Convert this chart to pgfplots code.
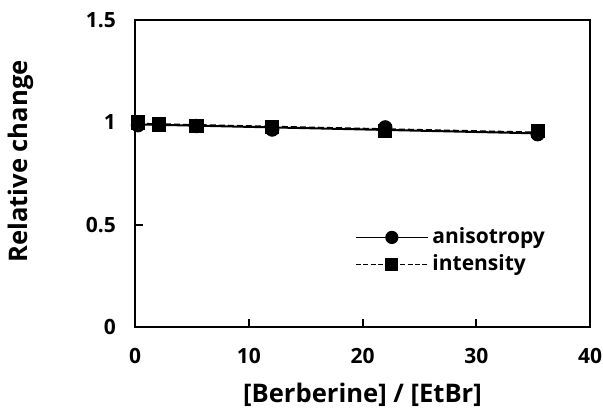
\documentclass[border=0pt]{standalone}
\usepackage{fontspec}
\setmainfont{Open Sans}
\usepackage{pgfplots}
\pgfplotsset{compat=1.18}
\begin{document}
\begin{tikzpicture}
\begin{axis}[
  scale only axis,
  width=227.5pt, height=153.5pt,
  xmin=0, xmax=40, ymin=0, ymax=1.5,
  xtick={0,10,20,30,40}, ytick={0,0.5,1,1.5},
  xtick pos=bottom, ytick pos=left,
  tick align=inside, major tick length=4pt,
  axis line style={line width=1.2pt},
  every tick/.style={line width=1pt, black},
  /pgf/number format/assume math mode=true,
  tick label style={font=\fontsize{10.5}{12}\selectfont\bfseries},
  xticklabel style={yshift=-7pt},
  yticklabel style={xshift=-6pt},
  label style={font=\fontsize{12.8}{15}\selectfont\bfseries},
  xlabel={[Berberine] / [EtBr]},
  ylabel={Relative change},
  xlabel style={yshift=-3pt},
  ylabel style={yshift=19.5pt, xshift=6pt},
  clip=false,
  legend style={draw=none, fill=none, at={(0.47,0.35)}, anchor=north west,
    font=\fontsize{10.5}{12}\selectfont\bfseries, row sep=0pt},
  legend cell align=left,
  legend image code/.code={\draw[#1, mark repeat=2, mark phase=2] plot coordinates {(0pt,0pt)(18pt,0pt)(36pt,0pt)};},
]
% fit lines
\addplot[black, line width=1pt, forget plot] coordinates {(0.26,0.99) (35.4,0.946)};
\addplot[black, line width=1pt, dash pattern=on 3pt off 1.5pt, forget plot] coordinates {(0.26,0.993) (35.4,0.95)};
% markers
\addplot[only marks, mark=*, mark size=3.4pt, black, forget plot] coordinates {
(0.26,0.986) (2.1,0.99) (5.4,0.982) (12.06,0.965) (22.0,0.975) (35.4,0.942)};
\addplot[only marks, mark=square*, mark size=3.3pt, black, forget plot] coordinates {
(0.26,1.0) (2.1,0.99) (5.4,0.984) (12.06,0.977) (22.0,0.958) (35.4,0.958)};
\addlegendimage{black, line width=0.6pt, mark=*, mark size=3pt, mark options={solid}}
\addlegendentry{anisotropy}
\addlegendimage{black, line width=0.6pt, dash pattern=on 2.5pt off 1.2pt, mark=square*, mark size=3pt, mark options={solid}}
\addlegendentry{intensity}
\end{axis}
\pgfresetboundingbox
\path ([shift={(-67.5pt,-42pt)}]current axis.south west) rectangle ([shift={(6.5pt,10pt)}]current axis.north east);
\end{tikzpicture}
\end{document}
